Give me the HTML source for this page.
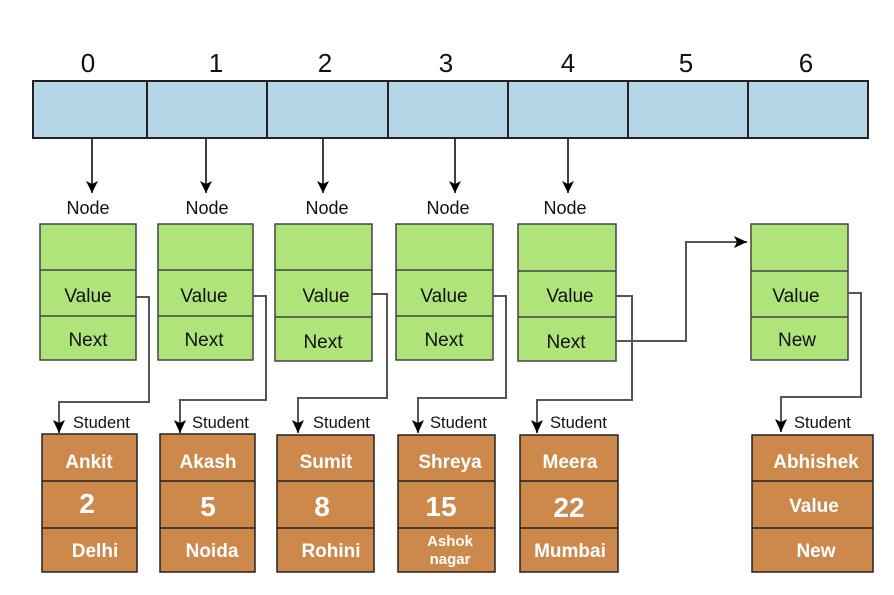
<!DOCTYPE html>
<html><head><meta charset="utf-8"><style>
html,body{margin:0;padding:0;background:#fff;width:894px;height:595px;overflow:hidden}
svg{display:block}
text{font-family:"Liberation Sans",sans-serif}
.t{font-size:19px;fill:#111;text-anchor:middle}
.w{font-size:19px;fill:#fff;font-weight:bold;text-anchor:middle}
.n{font-size:18px;fill:#111;text-anchor:middle}
.s{font-size:16.5px;fill:#111}
</style></head><body>
<svg width="894" height="595" viewBox="0 0 894 595">
<defs><marker id="a" markerWidth="14" markerHeight="14" refX="12" refY="6" orient="auto" markerUnits="userSpaceOnUse"><path d="M0,0 L12,6 L0,12 L3,6 Z" fill="#000"/></marker>
<marker id="b" markerWidth="14" markerHeight="14" refX="13" refY="7" orient="auto" markerUnits="userSpaceOnUse"><path d="M0,1 L13,7 L0,13 L3,7 Z" fill="#000"/></marker></defs>
<g font-size="26">
<text x="88" y="72" class="t" style="font-size:26px">0</text>
<text x="216" y="72" class="t" style="font-size:26px">1</text>
<text x="325" y="72" class="t" style="font-size:26px">2</text>
<text x="446" y="72" class="t" style="font-size:26px">3</text>
<text x="568" y="72" class="t" style="font-size:26px">4</text>
<text x="686" y="72" class="t" style="font-size:26px">5</text>
<text x="806" y="72" class="t" style="font-size:26px">6</text>
</g>
<rect x="33" y="81" width="835" height="57" fill="#b3d7e6" stroke="#222" stroke-width="2"/>
<g stroke="#222" stroke-width="2">
<line x1="147" y1="81" x2="147" y2="138"/><line x1="267" y1="81" x2="267" y2="138"/><line x1="388" y1="81" x2="388" y2="138"/><line x1="508" y1="81" x2="508" y2="138"/><line x1="628" y1="81" x2="628" y2="138"/><line x1="748" y1="81" x2="748" y2="138"/>
</g>
<g stroke="#000" stroke-width="1.5" marker-end="url(#a)">
<line x1="92" y1="139" x2="92" y2="193"/><line x1="206" y1="139" x2="206" y2="193"/><line x1="323" y1="139" x2="323" y2="193"/><line x1="455" y1="139" x2="455" y2="193"/><line x1="568" y1="139" x2="568" y2="193"/>
</g>
<text x="88" y="214" class="n">Node</text><text x="207" y="214" class="n">Node</text><text x="327" y="214" class="n">Node</text><text x="448" y="214" class="n">Node</text><text x="565" y="214" class="n">Node</text>
<g fill="#afe47a" stroke="#444" stroke-width="1.5">
<rect x="40" y="224" width="96" height="136"/><line x1="40" y1="270" x2="136" y2="270"/><line x1="40" y1="316" x2="136" y2="316"/>
<rect x="158" y="224" width="95" height="136"/><line x1="158" y1="270" x2="253" y2="270"/><line x1="158" y1="316" x2="253" y2="316"/>
<rect x="275" y="224" width="97" height="137"/><line x1="275" y1="270" x2="372" y2="270"/><line x1="275" y1="317" x2="372" y2="317"/>
<rect x="396" y="224" width="97" height="136"/><line x1="396" y1="270" x2="493" y2="270"/><line x1="396" y1="316" x2="493" y2="316"/>
<rect x="518" y="224" width="98" height="137"/><line x1="518" y1="271" x2="616" y2="271"/><line x1="518" y1="317" x2="616" y2="317"/>
<rect x="751" y="224" width="97" height="136"/><line x1="751" y1="271" x2="848" y2="271"/><line x1="751" y1="317" x2="848" y2="317"/>
</g>
<text x="88" y="302" class="t">Value</text><text x="88" y="346" class="t">Next</text>
<text x="204" y="302" class="t">Value</text><text x="204" y="346" class="t">Next</text>
<text x="326" y="302" class="t">Value</text><text x="323" y="348" class="t">Next</text>
<text x="444" y="302" class="t">Value</text><text x="444" y="346" class="t">Next</text>
<text x="570" y="302" class="t">Value</text><text x="566" y="348" class="t">Next</text>
<text x="796" y="302" class="t">Value</text><text x="797" y="346" class="t">New</text>
<g fill="none" stroke="#555" stroke-width="2" marker-end="url(#b)">
<polyline points="136,297 149,297 149,402 59,402 59,433"/>
<polyline points="253,296 266,296 266,400 180,400 180,433"/>
<polyline points="372,294 387,294 387,398 298,398 298,433"/>
<polyline points="493,296 506,296 506,398 418,398 418,433"/>
<polyline points="616,296 632,296 632,400 537,400 537,433"/>
<polyline points="848,293 861,293 861,397 781,397 781,432"/>
<polyline points="616,341 686,341 686,242 747,242"/>
</g>
<text x="73" y="428" class="s">Student</text><text x="192" y="428" class="s">Student</text><text x="313" y="428" class="s">Student</text><text x="430" y="428" class="s">Student</text><text x="550" y="428" class="s">Student</text><text x="794" y="428" class="s">Student</text>
<g fill="#cd884c" stroke="#222" stroke-width="1.5">
<rect x="42" y="434" width="95" height="138"/><line x1="42" y1="481" x2="137" y2="481"/><line x1="42" y1="528" x2="137" y2="528"/>
<rect x="160" y="434" width="95" height="138"/><line x1="160" y1="481" x2="255" y2="481"/><line x1="160" y1="528" x2="255" y2="528"/>
<rect x="277" y="435" width="97" height="137"/><line x1="277" y1="481" x2="374" y2="481"/><line x1="277" y1="528" x2="374" y2="528"/>
<rect x="398" y="435" width="97" height="137"/><line x1="398" y1="481" x2="495" y2="481"/><line x1="398" y1="528" x2="495" y2="528"/>
<rect x="520" y="435" width="98" height="137"/><line x1="520" y1="481" x2="618" y2="481"/><line x1="520" y1="528" x2="618" y2="528"/>
<rect x="752" y="435" width="121" height="137"/><line x1="752" y1="481" x2="873" y2="481"/><line x1="752" y1="528" x2="873" y2="528"/>
</g>
<text x="89" y="468" class="w">Ankit</text><text x="87" y="513" class="w" style="font-size:28px">2</text><text x="95" y="557" class="w">Delhi</text>
<text x="208" y="468" class="w">Akash</text><text x="208" y="516" class="w" style="font-size:28px">5</text><text x="212" y="557" class="w">Noida</text>
<text x="326" y="468" class="w">Sumit</text><text x="322" y="516" class="w" style="font-size:28px">8</text><text x="331" y="557" class="w">Rohini</text>
<text x="450" y="468" class="w">Shreya</text><text x="441" y="516" class="w" style="font-size:28px">15</text><text x="450" y="546" class="w" style="font-size:15px">Ashok</text><text x="450" y="564" class="w" style="font-size:15px">nagar</text>
<text x="570" y="468" class="w">Meera</text><text x="569" y="517" class="w" style="font-size:28px">22</text><text x="570" y="557" class="w">Mumbai</text>
<text x="816" y="468" class="w">Abhishek</text><text x="814" y="512" class="w">Value</text><text x="816" y="557" class="w">New</text>
</svg>
</body></html>
